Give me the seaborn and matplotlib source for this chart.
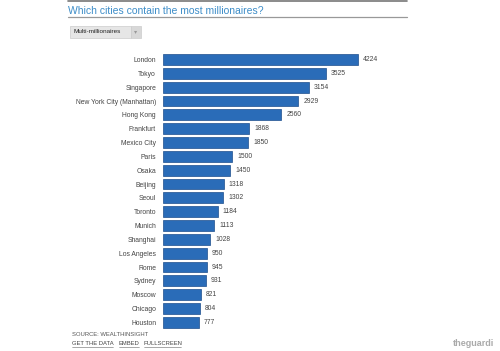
import matplotlib
matplotlib.use("Agg")
import matplotlib.pyplot as plt
import seaborn as sb
import pandas as pd
from matplotlib.patches import Rectangle

cities = ["London", "Tokyo", "Singapore", "New York City (Manhattan)", "Hong Kong",
          "Frankfurt", "Mexico City", "Paris", "Osaka", "Beijing", "Seoul", "Toronto",
          "Munich", "Shanghai", "Los Angeles", "Rome", "Sydney", "Moscow", "Chicago",
          "Houston"]
millionaires = [4224, 3525, 3154, 2929, 2560, 1868, 1850, 1500, 1450, 1318, 1302,
                1184, 1113, 1028, 950, 945, 931, 821, 804, 777]

df = pd.DataFrame({"city": cities, "count": millionaires})

sb.set_style("white")
plt.rcParams['font.family'] = ['Liberation Sans', 'DejaVu Sans']

fig = plt.figure(figsize=(5, 3.51), dpi=100)
ax = fig.add_axes([0.326, 0.062, 0.494, 0.788])

sb.barplot(data=df, x="count", y="city", color="#2a6cb8", edgecolor="#1d4f8c",
           linewidth=0.5, width=0.78, saturation=1, ax=ax)
ax.set_xlim(0, 5350)
ax.set_xlabel("")
ax.set_ylabel("")
ax.set_xticks([])
ax.tick_params(axis="y", length=0, labelsize=4.9, labelcolor="#444444", pad=5)
for s in ax.spines.values():
    s.set_visible(False)
for i, v in enumerate(millionaires):
    ax.text(v + 110, i, str(v), va="center", ha="left", fontsize=4.9, color="#444444")

# header
fig.add_artist(plt.Line2D([0.136, 0.814], [0.998, 0.998], color="#777777", lw=1.2))
fig.text(0.136, 0.968, "Which cities contain the most millionaires?", fontsize=7.5,
         color="#3d8dc8", va="center", ha="left")
fig.add_artist(plt.Line2D([0.136, 0.814], [0.952, 0.952], color="#999999", lw=0.9))

# dropdown
fig.add_artist(Rectangle((0.140, 0.893), 0.122, 0.034, transform=fig.transFigure,
                         facecolor="#e6e6e6", edgecolor="#cccccc", lw=0.5))
fig.add_artist(Rectangle((0.262, 0.893), 0.020, 0.034, transform=fig.transFigure,
                         facecolor="#d8d8d8", edgecolor="#cccccc", lw=0.5))
fig.text(0.146, 0.910, "Multi-millionaires", fontsize=4.6, color="#222222", va="center")
fig.text(0.272, 0.910, "\u25be", fontsize=4.5, color="#999999", va="center", ha="center")

# footer
fig.text(0.144, 0.047, "SOURCE: WEALTHINSIGHT", fontsize=4.2, color="#555555", va="center")
fig.text(0.144, 0.020, "GET THE DATA", fontsize=4.2, color="#444444", va="center")
fig.text(0.237, 0.020, "EMBED", fontsize=4.2, color="#444444", va="center")
fig.text(0.287, 0.020, "FULLSCREEN", fontsize=4.2, color="#444444", va="center")
for x0, x1 in [(0.144, 0.226), (0.237, 0.278), (0.287, 0.362)]:
    fig.add_artist(plt.Line2D([x0, x1], [0.010, 0.010], color="#666666", lw=0.4))
fig.text(0.905, 0.020, "theguardi", fontsize=6.5, color="#aaaaaa", va="center",
         fontweight="bold")

fig.savefig("out.png", dpi=100)
